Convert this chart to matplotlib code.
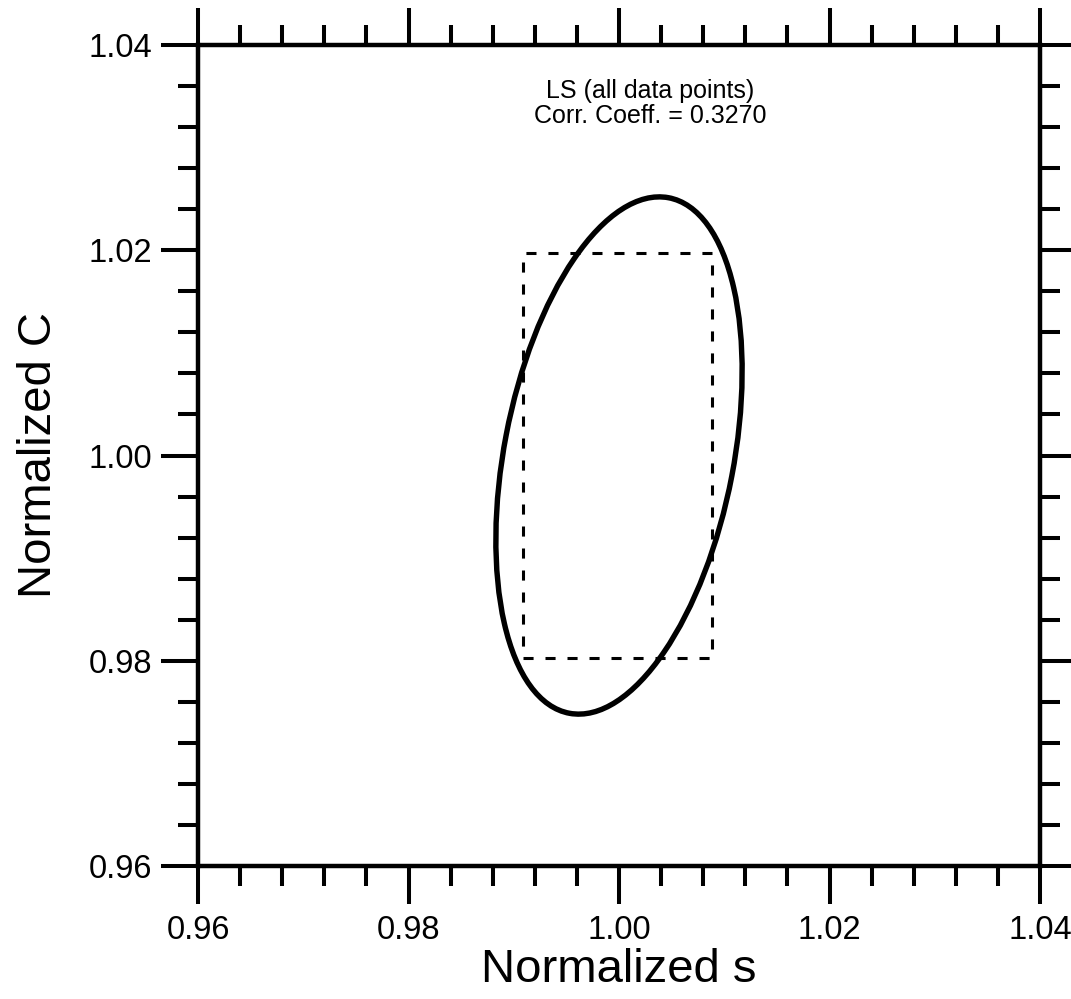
import numpy as np
import matplotlib
matplotlib.use("Agg")
import matplotlib.pyplot as plt
from matplotlib.patches import Ellipse, Rectangle
from matplotlib.ticker import MultipleLocator, FormatStrFormatter

plt.rcParams['font.family'] = ['Liberation Sans', 'DejaVu Sans']

# confidence ellipse (LS, all data points)
center = [1.0, 1.0]          # normalized s, normalized C
half_extent = [0.0117, 0.0252]
corr_coeff = 0.3270

# dashed box: independent ranges
box_s = [0.9909, 1.0088]
box_c = [0.9803, 1.0197]

ticks = [0.96, 0.98, 1.00, 1.02, 1.04]
annotation = "LS (all data points)\nCorr. Coeff. = {:.4f}".format(corr_coeff)

fig = plt.figure(figsize=(10.71, 9.99), dpi=100)
ax = fig.add_axes([198 / 1071, (999 - 866) / 999, 842 / 1071, 821 / 999])

# ellipse from covariance built with the correlation
sx, sy = half_extent
cov = np.array([[sx ** 2, corr_coeff * sx * sy],
                [corr_coeff * sx * sy, sy ** 2]])
vals, vecs = np.linalg.eigh(cov)
angle = np.degrees(np.arctan2(vecs[1, 1], vecs[0, 1]))
ell = Ellipse(center, width=2 * np.sqrt(vals[1]), height=2 * np.sqrt(vals[0]),
              angle=angle, fill=False, edgecolor='black', linewidth=3.9)
ax.add_patch(ell)

rect = Rectangle((box_s[0], box_c[0]), box_s[1] - box_s[0], box_c[1] - box_c[0],
                 fill=False, edgecolor='black', linewidth=2.2, linestyle=(0, (3.3, 3.9)))
ax.add_patch(rect)

ax.text(1.003, 1.0343, annotation, ha='center', va='center', fontsize=18,
        linespacing=1.05)

ax.set_xlim(ticks[0], ticks[-1])
ax.set_ylim(ticks[0], ticks[-1])
ax.set_xticks(ticks)
ax.set_yticks(ticks)
ax.xaxis.set_minor_locator(MultipleLocator(0.004))
ax.yaxis.set_minor_locator(MultipleLocator(0.004))
ax.xaxis.set_major_formatter(FormatStrFormatter('%.2f'))
ax.yaxis.set_major_formatter(FormatStrFormatter('%.2f'))

for s in ax.spines.values():
    s.set_linewidth(3.2)
ax.tick_params(which='both', direction='out', top=True, right=True,
               labeltop=False, labelright=False, width=2.9, labelsize=23.5)
ax.tick_params(axis='x', pad=8)
ax.tick_params(axis='y', pad=6)
ax.tick_params(which='major', length=27)
ax.tick_params(which='minor', length=14.5)

ax.set_xlabel('Normalized s', fontsize=34, labelpad=2)
ax.set_ylabel('Normalized C', fontsize=34, labelpad=20)

fig.savefig('out.png', dpi=100)
